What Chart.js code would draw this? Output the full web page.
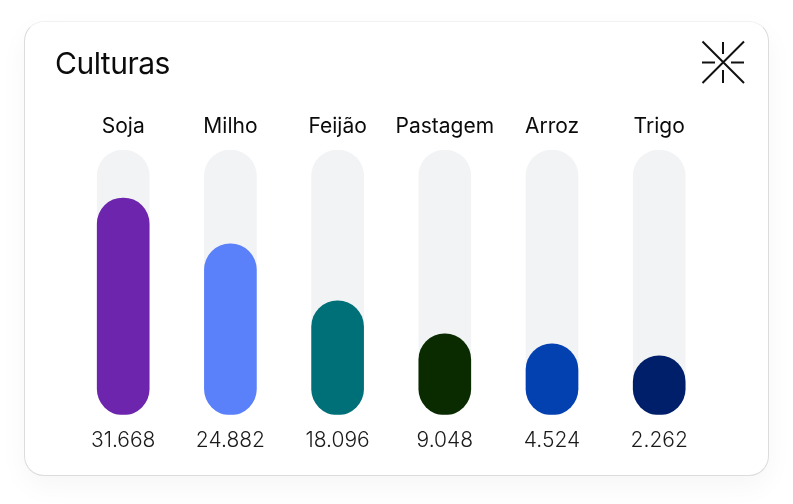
<!DOCTYPE html>
<html lang="pt-BR">
<head>
<meta charset="utf-8">
<title>Culturas</title>
<script src="https://cdn.jsdelivr.net/npm/chart.js@4"></script>
<style>
  html, body { margin: 0; background: #fff; }
  body { width: 793px; height: 504px; position: relative; overflow: hidden; font-family: Inter, sans-serif; }
  .card {
    position: absolute; left: 24px; top: 21px; width: 745px; height: 455px;
    box-sizing: border-box; background: #fff; border: 1px solid #dcdcdc; border-top-color: #f1f1f1; border-radius: 20px;
    box-shadow: 0 10px 28px rgba(0, 0, 0, 0.04);
  }
  h1 { position: absolute; left: 55px; top: 44px; margin: 0; font-size: 30px; line-height: 38px; font-weight: 400; letter-spacing: -0.5px; color: #0b0b0b; }
  .icon { position: absolute; left: 700px; top: 39px; }
  .plot { position: absolute; left: 0; top: 0; width: 793px; height: 504px; }
</style>
</head>
<body>
<div class="card"></div>
<div class="plot"><canvas id="culturasChart"></canvas></div>
<h1>Culturas</h1>
<svg class="icon" width="46" height="46" viewBox="0 0 46 46" fill="none" stroke="#111" stroke-width="2">
  <path d="M2.5 2.5 L44 44 M44 2.5 L2.5 44"/>
  <path d="M23 3 V15 M23 31 V44 M2 23.5 H15 M31 23.5 H44"/>
</svg>
<script>
const categories = ["Soja", "Milho", "Feijão", "Pastagem", "Arroz", "Trigo"];
const values = [31668, 24882, 18096, 9048, 4524, 2262];
const barColors = ["#6d25ae", "#5a81fa", "#007078", "#0a2a00", "#0340b0", "#001f6b"];

// y axis is not linear: small crops get stretched, shares are of the full track
const axisMax = 38700;
const axisStops = [0, 2262, 4524, 9048, 18096, 24882, 31668, axisMax];
const axisShares = [0, 0.2226, 0.2679, 0.3057, 0.4302, 0.6453, 0.8189, 1];
const trackValues = categories.map(() => axisMax);

class CropScale extends Chart.LinearScale {
  getPixelForValue(value) {
    let i = 1;
    while (i < axisStops.length - 1 && value > axisStops[i]) i++;
    const t = (value - axisStops[i - 1]) / (axisStops[i] - axisStops[i - 1]);
    const share = axisShares[i - 1] + t * (axisShares[i] - axisShares[i - 1]);
    return this.bottom - share * (this.bottom - this.top);
  }
}
CropScale.id = "crop";
CropScale.defaults = Chart.LinearScale.defaults;
Chart.register(CropScale);

const formatValue = (v) => v.toLocaleString("pt-BR");

const ctx = document.getElementById("culturasChart").getContext("2d");
new Chart(ctx, {
  type: "bar",
  data: {
    labels: categories,
    datasets: [
      {
        label: "Culturas",
        data: values,
        backgroundColor: barColors,
        order: 1,
      },
      {
        label: "Total",
        data: trackValues,
        backgroundColor: "#f2f3f5",
        order: 2,
      },
    ],
  },
  options: {
    responsive: true,
    maintainAspectRatio: false,
    animation: false,
    layout: {
      padding: { left: 69.6, right: 80.2, top: 102.8, bottom: 38 },
    },
    datasets: {
      bar: {
        grouped: false,
        barThickness: 52,
        borderRadius: 26,
        borderSkipped: false,
      },
    },
    plugins: {
      legend: { display: false },
      tooltip: { enabled: false },
    },
    scales: {
      y: {
        type: "crop",
        display: false,
        min: 0,
        max: axisMax,
      },
      x: {
        position: "bottom",
        grid: { display: false, drawTicks: false },
        border: { display: false },
        ticks: {
          autoSkip: false,
          maxRotation: 0,
          padding: 13,
          color: "#1a1a1a",
          font: { family: "Inter", size: 21, weight: "300" },
          callback: (_, i) => formatValue(values[i]),
        },
      },
      top: {
        type: "category",
        position: "top",
        grid: { display: false, drawTicks: false },
        border: { display: false },
        ticks: {
          autoSkip: false,
          maxRotation: 0,
          padding: 11,
          color: "#0b0b0b",
          font: { family: "Inter", size: 21, weight: "400" },
        },
      },
    },
  },
});
</script>
</body>
</html>
